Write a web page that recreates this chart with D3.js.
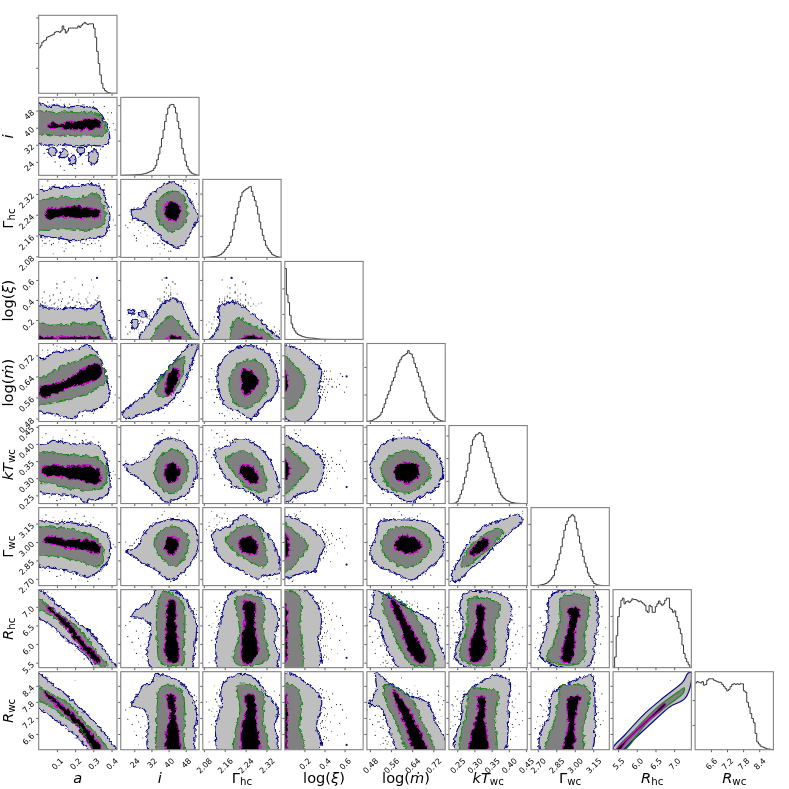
<!DOCTYPE html>
<meta charset="utf-8">
<style>
body { margin: 0; background: #fff; }
svg { display: block; filter: blur(0.3px); }
text { font-family: "DejaVu Sans", sans-serif; fill: #000; }
.tick line { stroke: #333; stroke-width: 0.8; }
.tick text { font-size: 8px; }
.axis-label { font-size: 14.6px; }
.axis-label .sub { font-size: 10.2px; }
.spine { fill: none; stroke: #808080; stroke-width: 1.1; }
.hist { fill: none; stroke: #222; stroke-width: 0.9; }
</style>
<body>
<script src="https://d3js.org/d3.v7.min.js"></script>
<script>

const params = ["a", "i", "gh", "xi", "m", "kt", "gw", "rh", "rw"];
const domains = {
  a: [0, 0.43], i: [17.7, 54.2], gh: [2.076, 2.376], xi: [0.005, 0.785], m: [0.4686, 0.765],
  kt: [0.226, 0.4535], gw: [2.645, 3.28], rh: [5.366, 7.46], rw: [6.01, 8.93]
};
const ticks = {
  a: [0.1, 0.2, 0.3, 0.4], i: [24, 32, 40, 48], gh: [2.08, 2.16, 2.24, 2.32], xi: [0.2, 0.4, 0.6],
  m: [0.48, 0.56, 0.64, 0.72], kt: [0.25, 0.30, 0.35, 0.40, 0.45], gw: [2.70, 2.85, 3.00, 3.15],
  rh: [5.5, 6.0, 6.5, 7.0], rw: [6.6, 7.2, 7.8, 8.4]
};
const tickFormats = { a: ".1f", i: "d", gh: ".2f", xi: ".1f", m: ".2f", kt: ".2f", gw: ".2f", rh: ".1f", rw: ".1f" };
const histTicks = {
  a: [36, 71, 107], i: [49, 99], gh: [30, 59, 90], xi: [36, 72], m: [38, 77],
  kt: [32, 64, 96], gw: [28, 58, 87], rh: [37, 73], rw: [35, 70]
};

// marginals, percent of the peak bin
const hist_a = [64,67,72,74,75,79,80,81,82,83,86,87,87,86,88,95,90,85,88,92,92,92,92,92,92,95,93,96,98,100,98,97,98,98,98,92,79,59,42,26,14,7,4,2,1,0.5,0,0,0,0];
const hist_i = [0,0.2,0.2,0.3,0.3,0.4,0.5,0.5,0.6,0.8,1,1,1.2,1.5,2,2.5,3,4,5,6,7,10,14,22,30,40,52,64,76,86,95,99,100,100,96,88,76,66,52,38,30,20,13,8,5,3,2,1,0.5,0.2];
const hist_gh = [0,0,0.2,0.3,0.5,0.7,1,1.2,1.5,2,3,4,6,8,11,14,17,21,30,39,50,60,70,79,86,92,94,96,97,99,100,93,86,80,72,61,50,40,31,24,17,13,10,7,4,3,2,1,0.5,0.2];
const hist_xi = [100,63,52,34,22,16,12,9,7,6,5,4,3.5,3,2.5,2.2,2,2,1.8,1.5,1,0.8,0.5,0.4,0.3,0.2,0.15,0.1,0.1,0.1,0,0,0,0,0,0,0,0,0,0,0,0,0,0,0,0,0,0,0,0];
const hist_m = [0.3,0.5,1,1.5,3,4,5,7,9,13,19,25,32,38,43,51,57,62,70,77,83,87,91,93,94,96,100,96,95,90,82,76,69,63,56,50,43,33,26,20,15,12,9,6,5,3,2,1,0.6,0.3];
const hist_kt = [0,0.1,0.2,0.4,1,3,7,13,19,28,37,46,57,71,82,90,94,97,98,100,99,96,87,79,73,65,58,51,43,36,28,22,16,12,9,7,5,4,3,2,1.5,1,0.6,0.4,0.3,0.2,0.1,0.1,0,0];
const hist_gw = [0,0,0,0.2,0.3,0.5,1,1.5,2,3,4,6,8,11,14,22,30,36,45,55,67,78,86,91,96,98,100,98,90,80,70,60,50,41,32,26,18,13,10,6,3,2,1,0.6,0.3,0.2,0.1,0,0,0];
const hist_rh = [1,15,45,72,85,95,98,90,93,94,92,94,97,96,96,95,93,94,92,90,88,80,78,88,86,78,78,86,90,94,90,88,90,95,98,98,84,82,78,80,72,65,55,48,32,20,13,8,4,0];
const hist_rw = [94,96,95,94,96,91,92,98,100,100,100,98,97,96,95,95,92,89,86,83,85,89,92,93,92,93,92,93,93,83,81,67,60,51,44,38,23,11,8,5,4,3,2,1,1,0.5,0];
const hists = { a: hist_a, i: hist_i, gh: hist_gh, xi: hist_xi, m: hist_m, kt: hist_kt, gw: hist_gw, rh: hist_rh, rw: hist_rw };

// 2d levels: name is row_column, values are [x, y] in the parameters' own units
const i_a = {
  outer: [[-.02,52],[.02,51],[.06,50],[.1,50.5],[.15,49.8],[.2,50],[.25,50],[.3,49.3],[.33,48],[.35,45],[.37,42],[.385,38],[.39,34],[.372,32],[.33,31.5],[.28,32],[.22,31.5],[.15,32],[.08,32],[.03,32],[-.02,34]],
  mid: [[-.02,47.2],[.05,47.6],[.1,47],[.15,47.4],[.2,47],[.26,47.2],[.31,47],[.345,45],[.36,42],[.37,39],[.35,36.5],[.3,36],[.25,36.3],[.2,36],[.15,36.6],[.1,36],[.05,36.8],[-.02,36.8]],
  core: [[.055,41],[.08,42.5],[.12,41.7],[.16,43],[.2,43],[.25,44],[.29,44],[.335,43.5],[.34,40.5],[.3,39.3],[.25,39.2],[.2,39],[.15,39.5],[.1,39.7],[.06,39.8]],
  islands: [
    [[.05,30],[.08,30.5],[.1,28.5],[.08,26.5],[.06,27.5]], [[.12,29],[.15,29.5],[.16,27],[.13,26],[.115,27]],
    [[.17,26],[.2,26.5],[.2,23],[.175,22.5],[.165,24]], [[.21,30],[.25,30.5],[.25,28],[.22,27.5]],
    [[.28,28.5],[.32,29],[.32,24],[.29,23],[.27,26]]
  ]
};
const gh_a = {
  outer: [[-.02,2.34],[.03,2.335],[.08,2.345],[.13,2.345],[.18,2.35],[.24,2.35],[.28,2.36],[.33,2.35],[.355,2.33],[.375,2.28],[.39,2.24],[.385,2.2],[.36,2.16],[.31,2.15],[.25,2.145],[.19,2.14],[.12,2.15],[.05,2.155],[-.02,2.165]],
  mid: [[-.02,2.29],[.05,2.3],[.1,2.305],[.15,2.31],[.2,2.3],[.27,2.315],[.32,2.32],[.345,2.29],[.365,2.25],[.355,2.2],[.32,2.19],[.25,2.18],[.18,2.185],[.1,2.185],[.05,2.18],[-.02,2.19]],
  core: [[.035,2.245],[.06,2.265],[.1,2.262],[.15,2.27],[.2,2.275],[.25,2.268],[.3,2.265],[.337,2.255],[.335,2.232],[.29,2.228],[.23,2.225],[.17,2.23],[.12,2.232],[.07,2.222],[.04,2.228]]
};
const xi_a = {
  outer: [[-.02,.335],[.05,.32],[.1,.315],[.15,.315],[.2,.325],[.25,.31],[.3,.33],[.335,.38],[.345,.3],[.36,.2],[.38,.1],[.4,0],[.4,-.03],[-.02,-.03]],
  mid: [[-.02,.18],[.05,.15],[.1,.15],[.15,.155],[.2,.17],[.25,.16],[.3,.17],[.33,.15],[.35,.1],[.38,0],[.38,-.03],[-.02,-.03]],
  core: [[-.02,.03],[.05,.03],[.3,.03],[.35,.02],[.36,-.03],[-.02,-.03]]
};
const m_a = {
  outer: [[-.02,.705],[.03,.708],[.08,.73],[.13,.735],[.17,.74],[.22,.745],[.262,.76],[.29,.75],[.317,.733],[.353,.682],[.381,.605],[.39,.566],[.362,.536],[.299,.511],[.226,.505],[.19,.48],[.117,.49],[.062,.5],[-.02,.515]],
  mid: [[-.02,.635],[.04,.64],[.08,.66],[.15,.685],[.21,.698],[.31,.72],[.35,.68],[.37,.62],[.32,.595],[.21,.56],[.1,.542],[.04,.535],[-.02,.54]],
  core: [[.007,.599],[.098,.612],[.19,.643],[.262,.676],[.335,.688],[.344,.643],[.262,.612],[.172,.599],[.098,.574],[.016,.561]]
};
const kt_a = {
  outer: [[-.02,.4],[.04,.4],[.08,.41],[.13,.405],[.19,.4],[.25,.402],[.317,.4],[.35,.382],[.38,.333],[.39,.27],[.345,.24],[.27,.236],[.25,.229],[.225,.242],[.153,.25],[.062,.255],[-.02,.265]],
  mid: [[-.02,.374],[.06,.375],[.12,.37],[.22,.367],[.33,.357],[.375,.323],[.355,.275],[.26,.265],[.155,.272],[.07,.285],[-.02,.294]],
  core: [[.016,.33],[.062,.338],[.135,.335],[.299,.333],[.337,.318],[.33,.284],[.226,.292],[.117,.304],[.044,.306],[.016,.318]]
};
const gw_a = {
  outer: [[-.02,3.16],[.1,3.155],[.17,3.16],[.24,3.14],[.3,3.13],[.38,3.05],[.39,2.88],[.335,2.77],[.265,2.71],[.245,2.72],[.16,2.77],[.06,2.79],[-.02,2.825]],
  mid: [[-.02,3.12],[.08,3.12],[.16,3.11],[.28,3.06],[.355,2.95],[.33,2.8],[.225,2.84],[.1,2.885],[-.02,2.91]],
  core: [[.03,3.03],[.07,3.045],[.14,3.025],[.22,3.02],[.3,3.01],[.335,2.975],[.33,2.905],[.25,2.935],[.16,2.95],[.1,2.975],[.05,2.99],[.03,3.0]]
};
const rh_a = {
  outer: [[-.02,7.5],[.02,7.42],[.07,7.2],[.153,6.86],[.22,6.55],[.3,6.235],[.36,5.85],[.408,5.51],[.435,5.3],[.32,5.3],[.28,5.56],[.24,5.8],[.15,6.14],[.07,6.5],[-.02,6.8]],
  mid: [[-.02,7.32],[.05,7.02],[.153,6.68],[.26,6.2],[.33,5.7],[.38,5.45],[.335,5.42],[.27,5.7],[.153,6.41],[.07,6.75],[-.02,7.02]],
  core: [[.05,7.02],[.1,6.85],[.17,6.55],[.24,6.1],[.34,5.55],[.33,5.46],[.27,5.72],[.2,6.1],[.14,6.5],[.08,6.8],[.045,6.97]]
};
const rw_a = {
  outer: [[-.02,8.95],[.007,8.85],[.07,8.5],[.153,8.05],[.22,7.6],[.3,7.11],[.37,6.55],[.417,6.11],[.44,5.9],[.28,5.9],[.262,6.11],[.2,6.55],[.135,6.92],[.06,7.3],[-.02,7.68]],
  mid: [[-.02,8.42],[.07,8.1],[.153,7.79],[.26,7.0],[.37,6.17],[.39,5.9],[.32,5.9],[.22,6.9],[.153,7.18],[.07,7.6],[-.02,7.98]],
  core: [[.03,8.2],[.1,7.85],[.18,7.4],[.26,6.85],[.345,6.1],[.36,5.9],[.31,5.9],[.24,6.6],[.17,7.2],[.1,7.65],[.03,8.1]]
};
const gh_i = {
  outer: [[42.2,2.367],[48.4,2.322],[51.5,2.271],[53.9,2.232],[50.8,2.18],[46.9,2.124],[43.8,2.115],[39,2.136],[32.9,2.181],[28.3,2.213],[23.6,2.226],[22.8,2.258],[28.3,2.265],[29.8,2.303],[34.5,2.335],[39,2.358]],
  mid: [[40.7,2.328],[46.1,2.322],[48.4,2.271],[47.6,2.207],[42.2,2.175],[37.5,2.194],[34.2,2.245],[35.2,2.296]],
  core: [[41.5,2.29],[44.6,2.277],[45.5,2.251],[43.8,2.22],[39.9,2.22],[37.9,2.245],[38.7,2.277]]
};
const xi_i = {
  outer: [[24.5,-.03],[26,.02],[28,.09],[29.8,.13],[32,.2],[34.5,.28],[37.5,.364],[40,.39],[43,.41],[45,.38],[46.9,.33],[49.2,.213],[52.3,.095],[54.5,.03],[54.5,-.03]],
  mid: [[31,-.03],[33,.05],[35.2,.13],[39,.213],[41,.24],[43.8,.196],[47.6,.095],[51.5,.005],[52,-.03]],
  core: [[37.5,-.03],[38.3,.005],[40.6,.04],[43.8,.04],[46.9,.005],[47.5,-.03]],
  islands: [
    [[21,.3],[24,.3],[24.5,.26],[21.5,.27]], [[26,.27],[29,.28],[29.5,.24],[26.5,.235]],
    [[23,.2],[25.5,.2],[25.5,.13],[23.5,.11]]
  ]
};
const m_i = {
  outer: [[22,.479],[26.6,.494],[34.4,.51],[40.6,.542],[46,.593],[49.9,.669],[53,.739],[54.4,.765],[49.9,.76],[45.2,.72],[39,.664],[34.4,.618],[29.7,.574],[23.5,.536],[19,.504],[18.2,.494]],
  mid: [[46.9,.716],[47.6,.695],[45.2,.618],[40.6,.574],[36,.561],[34.2,.587],[37.5,.644],[42.2,.688]],
  core: [[42.2,.67],[44.6,.664],[43.8,.612],[39.9,.568],[38.3,.581],[39.9,.637]]
};
const kt_i = {
  outer: [[18.9,.338],[23.6,.342],[29.8,.357],[34.4,.401],[42.2,.415],[48.4,.396],[53,.347],[52.3,.294],[47.6,.25],[42.2,.236],[38.3,.231],[34.4,.255],[28,.289],[23.6,.309],[19.7,.328]],
  mid: [[43,.382],[47.6,.362],[49.2,.323],[46.1,.275],[41.4,.255],[37.5,.265],[33.7,.304],[34.4,.347],[37.5,.372]],
  core: [[42.2,.344],[45,.328],[44.6,.299],[40.6,.286],[38,.304],[38.7,.333]]
};
const gw_i = {
  outer: [[19.7,2.923],[25.1,2.95],[28.2,3.058],[32.9,3.14],[42.2,3.182],[50.8,3.153],[53.8,3.032],[52.3,2.882],[47.6,2.772],[41.4,2.691],[37.5,2.719],[32.9,2.787],[27.5,2.828],[22.8,2.896]],
  mid: [[40.6,3.128],[46.1,3.105],[49.2,3.018],[48.4,2.909],[43,2.8],[38.3,2.842],[33.2,2.978],[36,3.086]],
  core: [[41.4,3.045],[44.5,3.018],[44.5,2.95],[41.4,2.896],[38.3,2.937],[38.7,3.005]]
};
const rh_i = {
  outer: [[34.4,7.44],[42.2,7.44],[46.9,7.26],[50.8,6.9],[53.1,6.46],[52.3,6.0],[51.5,5.47],[50,5.3],[32.9,5.3],[29.8,5.79],[31.3,6.18],[31.3,6.55],[27.5,6.68],[22.8,6.73],[26.6,7.0],[30.6,7.08],[32.9,7.3]],
  mid: [[36.8,7.4],[43,7.3],[46.9,7.08],[47.6,6.55],[46.9,5.92],[46.9,5.47],[42.2,5.4],[36,5.51],[34.7,6.1],[34.4,6.81]],
  core: [[39.9,7.17],[43,7.16],[43.3,6.62],[44.5,6.0],[44.5,5.56],[40.6,5.49],[38.3,5.79],[38.8,6.37],[39.1,6.9]]
};
const rw_i = {
  outer: [[33.7,8.81],[40,8.75],[46.5,8.48],[50.8,7.98],[53.1,7.35],[52.3,6.74],[50.8,5.9],[31.3,5.9],[29.8,6.48],[30.6,7.11],[28.2,7.55],[22.8,7.67],[26,8.11],[28.2,8.42],[32,8.48]],
  mid: [[36,8.33],[40.6,8.42],[46.1,8.2],[47.6,7.35],[46.9,6.48],[46.9,5.9],[35.5,5.9],[34.4,6.86],[34.7,7.6]],
  core: [[39.1,8.05],[42.5,8.05],[43.3,7.35],[45,6.54],[44.6,5.9],[39.1,5.9],[38.8,6.6],[40.6,7.23],[39.9,7.73]]
};
const xi_gh = {
  outer: [[2.09,-.03],[2.11,.03],[2.13,.1],[2.14,.17],[2.14,.25],[2.135,.33],[2.16,.36],[2.18,.385],[2.21,.36],[2.243,.313],[2.29,.21],[2.326,.112],[2.378,-.03]],
  mid: [[2.175,-.03],[2.18,.005],[2.192,.18],[2.218,.213],[2.256,.16],[2.307,.095],[2.352,.005],[2.36,-.03]],
  core: [[2.21,-.03],[2.218,.005],[2.243,.04],[2.282,.035],[2.307,.005],[2.315,-.03]]
};
const m_gh = {
  outer: [[2.135,.669],[2.166,.72],[2.218,.752],[2.282,.752],[2.339,.707],[2.365,.618],[2.352,.568],[2.307,.53],[2.262,.479],[2.218,.504],[2.166,.528],[2.135,.593]],
  mid: [[2.243,.701],[2.294,.695],[2.326,.631],[2.301,.555],[2.23,.52],[2.192,.549],[2.177,.618],[2.199,.676]],
  core: [[2.23,.669],[2.275,.65],[2.288,.612],[2.256,.58],[2.237,.568],[2.224,.612]]
};
const kt_gh = {
  outer: [[2.122,.382],[2.166,.391],[2.218,.415],[2.282,.396],[2.339,.343],[2.368,.26],[2.333,.24],[2.313,.23],[2.269,.255],[2.192,.279],[2.147,.323]],
  mid: [[2.166,.357],[2.23,.38],[2.282,.357],[2.32,.284],[2.307,.26],[2.243,.275],[2.192,.318]],
  core: [[2.224,.337],[2.262,.333],[2.292,.304],[2.282,.284],[2.25,.289],[2.217,.318]]
};
const gw_gh = {
  outer: [[2.116,3.073],[2.18,3.128],[2.23,3.223],[2.294,3.128],[2.358,2.937],[2.368,2.747],[2.32,2.732],[2.282,2.705],[2.218,2.772],[2.166,2.828],[2.128,2.924]],
  mid: [[2.166,3.018],[2.218,3.121],[2.282,3.128],[2.32,2.909],[2.313,2.8],[2.256,2.842],[2.199,2.924]],
  core: [[2.218,3.018],[2.262,3.045],[2.288,2.95],[2.282,2.909],[2.243,2.909],[2.218,2.95]]
};
const rh_gh = {
  outer: [[2.18,7.35],[2.268,7.44],[2.333,7.17],[2.365,6.73],[2.352,6.1],[2.368,5.6],[2.346,5.3],[2.141,5.3],[2.128,6.0],[2.147,6.73],[2.166,7.17]],
  mid: [[2.205,7.26],[2.294,7.26],[2.313,7.0],[2.307,6.37],[2.326,5.6],[2.269,5.43],[2.205,5.47],[2.192,5.65],[2.218,6.28],[2.205,6.9]],
  core: [[2.23,7.13],[2.275,7.08],[2.275,6.46],[2.288,5.83],[2.262,5.49],[2.23,5.49],[2.224,6.1],[2.237,6.68]]
};
const rw_gh = {
  outer: [[2.147,8.35],[2.18,8.73],[2.26,8.78],[2.32,8.11],[2.365,7.48],[2.352,6.86],[2.365,6.23],[2.35,5.9],[2.141,5.9],[2.128,6.98],[2.147,7.67]],
  mid: [[2.211,8.42],[2.256,8.42],[2.307,8.11],[2.307,7.11],[2.326,6.23],[2.32,5.9],[2.199,5.9],[2.199,6.61],[2.218,7.48]],
  core: [[2.237,8.05],[2.271,8.05],[2.282,6.98],[2.295,6.23],[2.29,5.9],[2.23,5.9],[2.224,6.86],[2.243,7.48]]
};
const m_xi = {
  outer: [[-.03,.765],[.02,.759],[.155,.739],[.287,.694],[.37,.663],[.337,.587],[.353,.548],[.287,.491],[.155,.46],[-.03,.495]],
  mid: [[-.03,.725],[.01,.72],[.105,.682],[.205,.625],[.17,.561],[.07,.517],[.01,.51],[-.03,.505]],
  core: [[-.03,.67],[.01,.665],[.035,.63],[.03,.6],[.01,.58],[-.03,.58]]
};
const kt_xi = {
  outer: [[-.03,.43],[.01,.426],[.155,.401],[.287,.382],[.387,.343],[.37,.294],[.304,.265],[.155,.255],[.01,.226],[-.03,.22]],
  mid: [[-.03,.395],[.01,.392],[.121,.367],[.237,.328],[.155,.294],[.01,.25],[-.03,.245]],
  core: [[-.03,.362],[.01,.358],[.048,.328],[.03,.299],[.01,.294],[-.03,.29]]
};
const gw_xi = {
  outer: [[-.03,3.23],[.01,3.22],[.205,3.153],[.354,3.043],[.403,2.988],[.354,2.88],[.304,2.772],[.155,2.743],[.01,2.702],[-.03,2.69]],
  mid: [[-.03,3.16],[.01,3.153],[.121,3.07],[.237,2.975],[.187,2.905],[.088,2.797],[.01,2.757],[-.03,2.75]],
  core: [[-.03,3.09],[.01,3.083],[.048,2.988],[.03,2.88],[.01,2.867],[-.03,2.86]]
};
const rh_xi = {
  outer: [[-.03,7.5],[.22,7.4],[.337,7.04],[.37,6.55],[.337,6.1],[.37,5.56],[.32,5.3],[-.03,5.3]],
  mid: [[-.03,7.38],[.121,7.35],[.17,7.08],[.155,6.55],[.187,5.83],[.187,5.47],[.17,5.3],[-.03,5.3]],
  core: [[-.03,7.1],[.015,7.1],[.025,6],[.015,5.5],[-.03,5.5]]
};
const rw_xi = {
  outer: [[-.03,8.85],[.088,8.81],[.22,8.51],[.37,7.88],[.32,6.88],[.37,6.26],[.32,5.9],[-.03,5.9]],
  mid: [[-.03,8.53],[.01,8.51],[.121,8.32],[.17,7.76],[.155,6.88],[.187,6.38],[.187,5.9],[-.03,5.9]],
  core: [[-.03,8.1],[.015,8.1],[.025,6.5],[.015,5.9],[-.03,5.9]]
};
const kt_m = {
  outer: [[.479,.333],[.504,.372],[.529,.401],[.592,.416],[.667,.411],[.731,.372],[.756,.314],[.731,.27],[.68,.25],[.63,.231],[.567,.255],[.517,.275],[.485,.314]],
  mid: [[.523,.333],[.554,.362],[.617,.382],[.68,.362],[.711,.314],[.68,.28],[.617,.257],[.554,.275]],
  core: [[.573,.328],[.599,.343],[.655,.338],[.667,.314],[.63,.285],[.58,.299]]
};
const gw_m = {
  outer: [[.479,2.92],[.504,3.043],[.517,3.166],[.605,3.178],[.705,3.153],[.756,3.016],[.75,2.88],[.693,2.77],[.636,2.689],[.567,2.757],[.517,2.797],[.485,2.88]],
  mid: [[.523,2.96],[.542,3.07],[.592,3.124],[.667,3.096],[.711,2.988],[.68,2.852],[.617,2.797],[.554,2.852]],
  core: [[.573,2.96],[.592,3.043],[.655,3.029],[.674,2.96],[.642,2.907],[.597,2.92]]
};
const rh_m = {
  outer: [[.498,7.44],[.554,7.26],[.642,6.9],[.718,6.59],[.743,6.0],[.765,5.6],[.77,5.3],[.6,5.3],[.567,5.56],[.529,6.19],[.51,6.64],[.479,6.77],[.491,7.08]],
  mid: [[.535,7.35],[.592,7.17],[.655,6.73],[.693,6.19],[.724,5.47],[.642,5.43],[.605,5.74],[.554,6.55],[.529,7.0]],
  core: [[.56,7.22],[.586,7.08],[.611,6.73],[.655,6.19],[.693,5.6],[.667,5.47],[.623,5.87],[.592,6.55],[.567,6.9]]
};
const rw_m = {
  outer: [[.504,8.88],[.554,8.51],[.642,8.0],[.7,7.76],[.731,7.01],[.765,6.38],[.77,5.9],[.59,5.9],[.554,6.76],[.517,7.63],[.479,7.69],[.504,8.26]],
  mid: [[.535,8.44],[.58,8.32],[.642,7.88],[.674,7.13],[.724,5.9],[.63,5.9],[.58,7.01],[.542,7.76]],
  core: [[.567,8.26],[.592,8.0],[.642,7.26],[.693,5.9],[.655,5.9],[.605,7.13],[.573,7.88]]
};
const gw_kt = {
  outer: [[.233,2.718],[.257,2.867],[.286,3.003],[.325,3.125],[.383,3.18],[.418,3.22],[.442,3.18],[.418,3.112],[.383,3.03],[.344,2.922],[.315,2.84],[.286,2.772],[.247,2.677]],
  mid: [[.262,2.8],[.277,2.922],[.32,3.044],[.369,3.112],[.383,3.084],[.359,2.989],[.315,2.881],[.277,2.8]],
  core: [[.286,2.908],[.301,2.976],[.33,3.03],[.344,3.016],[.335,2.949],[.301,2.894]]
};
const rh_kt = {
  outer: [[.272,7.36],[.306,7.41],[.383,7.31],[.408,6.96],[.398,6.42],[.393,5.8],[.378,5.39],[.257,5.48],[.243,5.75],[.252,6.06],[.267,6.51],[.257,6.96]],
  mid: [[.286,7.23],[.32,7.24],[.374,7.04],[.359,6.42],[.359,5.8],[.344,5.44],[.281,5.48],[.257,5.66],[.277,6.42]],
  core: [[.306,7.04],[.33,7.0],[.325,6.42],[.335,5.88],[.315,5.53],[.291,5.53],[.286,5.97],[.306,6.51]]
};
const rw_kt = {
  outer: [[.364,8.8],[.403,8.56],[.398,7.81],[.398,6.81],[.383,5.9],[.247,5.9],[.243,6.43],[.262,7.18],[.267,7.93],[.306,8.43]],
  mid: [[.291,8.3],[.325,8.3],[.369,8.18],[.359,7.18],[.359,5.9],[.257,5.9],[.257,6.31],[.277,7.43],[.281,8.05]],
  core: [[.31,7.99],[.33,7.99],[.33,7.18],[.335,5.9],[.286,5.9],[.296,6.81],[.31,7.43]]
};
const rh_gw = {
  outer: [[2.824,7.35],[2.96,7.44],[3.15,7.44],[3.19,6.81],[3.163,6.1],[3.136,5.52],[3.068,5.3],[2.797,5.47],[2.715,5.7],[2.743,6.1],[2.783,6.64],[2.783,7.08]],
  mid: [[2.892,7.26],[3.109,7.26],[3.109,6.81],[3.082,6.28],[3.068,5.56],[2.933,5.43],[2.77,5.6],[2.824,6.01],[2.879,6.64]],
  core: [[2.946,6.95],[3.041,6.95],[3.0,6.28],[3.0,5.83],[2.96,5.52],[2.892,5.56],[2.933,6.28],[2.96,6.64]]
};
const rw_gw = {
  outer: [[2.865,8.31],[2.96,8.5],[3.136,8.8],[3.163,7.87],[3.163,6.88],[3.122,5.9],[2.729,5.9],[2.715,6.5],[2.797,7.38],[2.797,7.87]],
  mid: [[2.892,8.37],[3.109,8.31],[3.109,7.62],[3.068,6.88],[3.055,5.9],[2.77,5.9],[2.77,6.26],[2.837,7.13],[2.865,7.87]],
  core: [[2.946,7.94],[3.041,8.0],[3.0,7.13],[3.0,6.26],[2.96,5.9],[2.905,5.9],[2.946,6.88]]
};
const rw_rh = {
  outer: [[5.366,6.06],[5.68,6.56],[6.22,7.37],[6.75,8.0],[7.24,8.56],[7.37,8.87],[7.46,8.9],[7.46,8.56],[7.29,7.93],[6.89,7.62],[6.39,7.0],[5.86,6.31],[5.59,5.96]],
  mid: [[5.456,6.01],[5.95,6.75],[6.57,7.62],[7.11,8.18],[7.27,8.33],[7.24,8.12],[6.84,7.68],[6.22,6.93],[5.68,6.01]],
  core: [[5.42,5.95],[5.8,6.5],[6.4,7.3],[6.75,7.75],[6.78,7.7],[6.3,7.08],[5.75,6.35],[5.52,5.95]]
};
const levels = {
  i_a, gh_a, xi_a, m_a, kt_a, gw_a, rh_a, rw_a, gh_i, xi_i, m_i, kt_i, gw_i, rh_i, rw_i,
  xi_gh, m_gh, kt_gh, gw_gh, rh_gh, rw_gh, m_xi, kt_xi, gw_xi, rh_xi, rw_xi,
  kt_m, gw_m, rh_m, rw_m, gw_kt, rh_kt, rw_kt, rh_gw, rw_gw, rw_rh
};

// the stray chain samples outside the outer level, columns in params order
const strays = [
  [.01,40,2.22,.36,.62,.33,2.99,7.15,8.3],[.02,43,2.26,.42,.66,.31,2.95,7.0,8.2],[.03,38,2.2,.48,.6,.35,3.05,7.1,8.1],
  [.05,45,2.28,.34,.68,.29,2.88,6.9,8.0],[.06,36,2.19,.39,.58,.36,3.08,6.95,7.95],[.08,41,2.24,.45,.63,.32,2.98,6.8,7.9],
  [.09,47,2.3,.37,.7,.3,2.92,6.7,7.75],[.1,39,2.18,.52,.6,.34,3.02,6.75,7.7],[.12,44,2.25,.35,.66,.31,2.96,6.6,7.65],
  [.13,35,2.16,.41,.55,.37,3.1,6.55,7.55],[.14,42,2.23,.58,.64,.33,3.0,6.5,7.5],[.16,46,2.27,.36,.69,.28,2.86,6.45,7.4],
  [.17,38,2.17,.43,.58,.35,3.04,6.35,7.35],[.18,41,2.21,.5,.62,.32,2.97,6.4,7.3],[.2,43,2.24,.34,.65,.3,2.93,6.25,7.2],
  [.21,37,2.15,.38,.57,.38,3.12,6.2,7.1],[.22,44,2.22,.46,.66,.27,2.84,6.15,7.05],[.24,40,2.2,.55,.61,.34,3.03,6.1,7.0],
  [.25,48,2.29,.36,.72,.31,2.95,6.0,6.9],[.26,36,2.14,.41,.56,.36,3.07,5.95,6.85],[.27,42,2.19,.37,.63,.29,2.9,5.9,6.8],
  [.28,39,2.18,.47,.6,.33,2.99,5.85,6.7],[.29,45,2.23,.35,.68,.32,2.96,5.8,6.65],[.3,41,2.17,.53,.63,.3,2.91,5.75,6.55],
  [.31,38,2.2,.4,.59,.35,3.06,5.7,6.5],[.32,43,2.16,.39,.65,.28,2.87,5.65,6.4],[.33,40,2.21,.44,.61,.34,3.01,5.6,6.35],
  [.04,41,2.22,.33,.64,.39,3.14,7.05,8.1],[.07,39,2.21,.35,.61,.35,3.04,6.85,7.9],[.11,42,2.19,.4,.63,.36,3.06,6.7,7.6],
  [.15,40,2.2,.33,.62,.31,2.94,6.45,7.45],[.19,41,2.18,.42,.63,.33,3.0,6.3,7.25],[.23,42,2.2,.36,.64,.3,2.93,6.1,7.0],
  [.27,40,2.16,.43,.61,.32,2.97,5.95,6.75],[.31,42,2.18,.35,.64,.33,2.98,5.75,6.45],[.02,38,2.14,.38,.6,.37,3.09,7.1,8.25],
  [.06,40,2.17,.44,.62,.34,3.02,6.9,8.0],[.12,41,2.2,.47,.63,.36,3.07,6.65,7.6],[.22,39,2.21,.41,.6,.29,2.9,6.2,7.1],
  [.29,37,2.15,.6,.58,.32,2.95,5.85,6.6],[.1,43,2.24,.56,.65,.38,3.11,6.7,7.7],[.2,38,2.19,.62,.6,.35,3.05,6.3,7.2],
  [.03,28,2.2,.18,.52,.34,3.0,7.05,8.1],[.05,26,2.18,.1,.5,.33,2.98,6.9,7.95],[.07,30,2.22,.22,.54,.35,3.02,6.8,7.8],
  [.09,24,2.16,.15,.49,.34,2.99,6.7,7.7],[.1,29,2.19,.27,.53,.36,3.05,6.7,7.7],[.12,22,2.21,.08,.48,.33,2.97,6.6,7.6],
  [.13,27,2.17,.2,.51,.35,3.01,6.55,7.55],[.15,31,2.24,.24,.55,.32,2.94,6.45,7.4],[.17,25,2.14,.12,.5,.34,2.96,6.35,7.3],
  [.18,28,2.2,.29,.52,.36,3.04,6.3,7.25],[.2,21,2.19,.06,.48,.34,2.93,6.2,7.15],[.21,30,2.16,.16,.54,.33,2.99,6.2,7.1],
  [.22,26,2.23,.25,.51,.35,3.03,6.15,7.05],[.24,23,2.22,.11,.49,.34,2.97,6.05,6.95],[.25,29,2.18,.3,.53,.31,2.92,6.0,6.9],
  [.26,27,2.26,.19,.52,.33,2.95,5.95,6.85],[.28,24,2.21,.09,.5,.34,3.0,5.85,6.7],[.29,31,2.19,.21,.55,.32,2.91,5.8,6.65],
  [.3,25,2.15,.14,.5,.35,3.02,5.75,6.55],[.32,28,2.2,.17,.53,.33,2.96,5.65,6.45],[.34,30,2.12,.23,.54,.31,2.93,5.55,6.35],
  [.37,26,2.18,.07,.52,.32,2.89,5.45,6.2],[.14,20,2.2,.13,.47,.35,3.0,6.5,7.5],[.08,33,2.13,.28,.56,.37,3.08,6.75,7.8],
  [.24,34,2.13,.2,.57,.36,3.05,6.05,6.9],
  [.04,37,2.13,.12,.6,.43,3.22,7.0,8.1],[.08,40,2.15,.05,.63,.42,3.2,6.8,7.9],[.13,43,2.2,.09,.66,.415,3.18,6.55,7.6],
  [.17,35,2.17,.14,.57,.425,3.19,6.35,7.4],[.21,45,2.16,.1,.67,.44,3.23,6.2,7.1],[.26,39,2.22,.06,.62,.412,3.17,5.95,6.85],
  [.3,41,2.14,.13,.64,.42,3.2,5.75,6.5],[.11,47,2.19,.04,.7,.41,3.17,6.65,7.65],[.33,37,2.18,.08,.6,.405,3.14,5.6,6.4],
  [.15,38,2.11,.16,.59,.44,3.25,6.45,7.45],[.25,44,2.13,.11,.66,.43,3.21,6.0,6.95],[.02,42,2.12,.07,.65,.418,3.19,7.15,8.4],
  [.06,38,2.28,.1,.59,.245,2.76,6.9,8.0],[.1,42,2.3,.06,.64,.235,2.72,6.7,7.7],[.14,36,2.32,.12,.56,.24,2.75,6.5,7.5],
  [.18,44,2.33,.05,.66,.25,2.7,6.3,7.25],[.22,39,2.29,.09,.6,.232,2.69,6.15,7.05],[.24,46,2.35,.13,.69,.245,2.74,6.05,6.95],
  [.27,41,2.31,.08,.62,.23,2.68,5.9,6.8],[.3,37,2.34,.1,.58,.25,2.73,5.75,6.5],[.33,43,2.36,.04,.65,.24,2.7,5.6,6.4],
  [.02,40,2.3,.15,.62,.252,2.77,7.1,8.2],[.12,48,2.27,.07,.71,.238,2.73,6.6,7.65],[.2,33,2.26,.11,.53,.255,2.78,6.25,7.15],
  [.08,36,2.09,.15,.58,.37,3.1,6.75,7.8],[.14,41,2.1,.08,.63,.38,3.13,6.5,7.5],[.19,38,2.12,.2,.59,.39,3.12,6.3,7.25],
  [.24,45,2.11,.12,.67,.36,3.09,6.1,6.95],[.29,35,2.13,.05,.56,.385,3.14,5.8,6.6],[.34,40,2.1,.18,.62,.39,3.16,5.5,6.3],
  [.05,48,2.37,.06,.7,.28,2.82,6.95,8.05],[.16,50,2.365,.04,.72,.27,2.8,6.4,7.4],[.28,47,2.37,.09,.69,.265,2.79,5.85,6.7],
  [.36,44,2.355,.03,.67,.28,2.84,5.45,6.2],[.22,52,2.36,.05,.73,.29,2.86,6.2,7.05],
  [.37,36,2.2,.05,.545,.33,3.0,5.48,6.22],[.38,44,2.24,.03,.56,.29,2.9,5.45,6.15],[.39,40,2.18,.08,.58,.35,3.03,5.42,6.12],
  [.4,47,2.27,.02,.6,.3,2.95,5.42,6.08],[.41,42,2.22,.03,.54,.32,2.98,5.4,6.05],[.36,50,2.28,.06,.53,.31,2.92,5.5,6.25],
  [.35,33,2.15,.04,.55,.34,3.03,5.5,6.3],[.42,39,2.2,.02,.57,.31,2.96,5.39,6.03],
  [.05,52,2.26,.04,.74,.33,2.99,6.95,8.05],[.1,54,2.28,.05,.755,.31,2.93,6.7,7.7],[.14,51,2.22,.03,.745,.35,3.05,6.5,7.5],
  [.18,50,2.3,.06,.75,.3,2.9,6.3,7.25],[.02,49,2.24,.07,.74,.34,3.03,7.1,8.2],[.08,53,2.32,.02,.76,.32,2.96,6.8,7.85],
  [.22,53,2.25,.03,.745,.36,3.08,6.15,7.0],[.3,52,2.27,.05,.73,.29,2.88,5.75,6.55],
  [.2,38,2.24,.04,.5,.3,2.95,6.9,8.6],[.05,34,2.3,.12,.6,.31,2.85,7.4,8.7],[.3,50,2.18,.03,.72,.34,3.1,5.4,6.1],
  [.015,41,2.23,.345,.63,.32,2.97,7.1,8.25],[.035,44,2.25,.37,.66,.3,2.93,7.0,8.1],[.045,39,2.19,.34,.6,.34,3.04,6.95,8.05],
  [.065,42,2.22,.4,.64,.33,3.0,6.85,7.95],[.085,37,2.17,.36,.58,.36,3.06,6.75,7.85],[.105,45,2.26,.335,.67,.29,2.89,6.7,7.7],
  [.125,40,2.21,.385,.62,.33,2.99,6.6,7.6],[.145,43,2.23,.345,.65,.31,2.95,6.5,7.5],[.165,38,2.18,.37,.59,.35,3.03,6.4,7.4],
  [.185,44,2.24,.4,.66,.3,2.92,6.3,7.3],[.205,41,2.2,.345,.63,.32,2.98,6.2,7.15],[.225,39,2.17,.375,.6,.34,3.02,6.15,7.05],
  [.245,43,2.22,.335,.65,.29,2.9,6.05,6.95],[.265,40,2.19,.39,.62,.33,2.99,5.95,6.85],[.285,42,2.2,.34,.64,.31,2.94,5.85,6.7],
  [.305,38,2.16,.36,.59,.35,3.04,5.75,6.55],[.325,41,2.18,.42,.63,.3,2.92,5.65,6.45],[.345,40,2.15,.32,.62,.32,2.97,5.55,6.3],
  [.03,41,2.13,.05,.63,.36,3.08,7.0,8.15],[.07,38,2.125,.1,.59,.37,3.1,6.85,7.9],[.11,43,2.135,.06,.65,.35,3.06,6.65,7.65],
  [.15,40,2.13,.12,.62,.38,3.11,6.45,7.45],[.19,44,2.12,.04,.66,.36,3.07,6.3,7.25],[.23,39,2.135,.09,.6,.37,3.09,6.1,7.0],
  [.27,42,2.125,.07,.64,.36,3.08,5.9,6.75],[.31,40,2.13,.11,.62,.38,3.1,5.7,6.5],[.06,45,2.14,.03,.67,.35,3.05,6.9,8.0],
  [.13,36,2.115,.16,.57,.37,3.09,6.55,7.55],[.21,47,2.14,.05,.69,.34,3.04,6.2,7.1],[.33,38,2.14,.07,.59,.37,3.09,5.6,6.35],
  [.02,44,2.35,.05,.66,.27,2.82,7.1,8.2],[.09,41,2.355,.08,.63,.26,2.79,6.7,7.75],[.17,47,2.36,.03,.69,.275,2.83,6.35,7.35],
  [.26,39,2.35,.06,.6,.26,2.78,5.95,6.85],[.33,45,2.345,.02,.67,.27,2.81,5.6,6.35],
  [.05,39,2.19,.1,.6,.405,3.16,6.95,8.05],[.09,43,2.17,.07,.65,.41,3.17,6.75,7.8],[.16,38,2.18,.13,.59,.405,3.17,6.4,7.4],
  [.2,41,2.15,.05,.63,.42,3.19,6.25,7.15],[.24,36,2.19,.09,.57,.41,3.15,6.05,6.95],[.28,44,2.14,.04,.66,.405,3.16,5.85,6.7],
  [.07,41,2.27,.06,.63,.25,2.79,6.85,7.9],[.11,37,2.29,.09,.58,.248,2.78,6.65,7.65],[.15,45,2.28,.05,.67,.255,2.77,6.45,7.45],
  [.19,40,2.31,.11,.62,.243,2.74,6.3,7.25],[.25,43,2.3,.04,.65,.238,2.72,6.0,6.9],[.29,38,2.32,.07,.59,.252,2.76,5.8,6.65],
  [.05,50,2.25,.05,.73,.33,3.0,6.58,7.35],[.1,51,2.24,.03,.74,.31,2.95,6.32,7.05],[.15,33,2.2,.08,.53,.34,3.02,6.08,6.8],
  [.2,49,2.27,.04,.72,.32,2.97,5.82,6.45],[.25,50,2.26,.02,.735,.3,2.93,5.6,6.2],[.12,53,2.21,.06,.75,.35,3.05,6.9,8.0],
  [.17,51,2.29,.03,.74,.3,2.9,6.7,7.8],[.22,34,2.18,.1,.52,.33,2.99,6.5,7.6],[.33,35,2.23,.05,.525,.32,2.96,5.95,6.85],
  [.38,47,2.21,.02,.545,.33,3.0,5.7,6.5],[.07,31,2.25,.08,.5,.34,3.01,7.35,8.55],[.3,33,2.28,.06,.515,.31,2.94,6.2,7.05]
];
// one lone sample that got its own outer ring
const loner = [.32, 39, 2.186, .62, .64, .274, 2.816, 5.63, 6.19];

const size = 78.3, step = 82.05, marginLeft = 38.7, marginTop = 15.3;
const strayOpacity = [1, 0.55, 0.9, 0.35, 0.75];

const svg = d3.select("body").append("svg")
    .attr("width", 789)
    .attr("height", 789);

const defs = svg.append("defs");
function roughFilter(id, scale) {
  let f = defs.append("filter").attr("id", id)
      .attr("filterUnits", "userSpaceOnUse")
      .attr("x", -15).attr("y", -15).attr("width", size + 30).attr("height", size + 30)
      .attr("color-interpolation-filters", "sRGB");
  f.append("feTurbulence").attr("type", "fractalNoise").attr("baseFrequency", 0.24)
      .attr("numOctaves", 2).attr("seed", 7).attr("result", "noise");
  f.append("feDisplacementMap").attr("in", "SourceGraphic").attr("in2", "noise")
      .attr("scale", scale).attr("xChannelSelector", "R").attr("yChannelSelector", "G");
}
roughFilter("rough", 5);
roughFilter("rough-thin", 1.2);
defs.append("clipPath").attr("id", "panel-clip").append("rect")
    .attr("width", size).attr("height", size - 0.3);

const scaleX = p => d3.scaleLinear().domain(domains[p]).range([0, size]);
const scaleY = p => d3.scaleLinear().domain(domains[p]).range([size - 0.3, 0]);

function drawTicks(g, col, row, x, y, xp, yp) {
  // bottom ticks on every panel, labels only along the outer edge
  let bottom = g.append("g").attr("transform", "translate(0," + (size - 0.3) + ")")
      .call(d3.axisBottom(x).tickValues(ticks[xp]).tickSize(2.5)
        .tickFormat(row === 8 ? d3.format(tickFormats[xp]) : ""));
  bottom.select(".domain").remove();
  bottom.selectAll("text")
      .attr("text-anchor", "middle")
      .attr("y", 0).attr("dy", 0)
      .attr("transform", function() {
        let len = this.getComputedTextLength();
        return "translate(0," + (7.5 + (len + 5.8) * 0.354) + ")rotate(-45)translate(0,2.9)";
      });

  let yAxis = d3.axisLeft(y).tickSize(2.5);
  if (yp) yAxis.tickValues(ticks[yp]).tickFormat(col === 0 ? d3.format(tickFormats[yp]) : "");
  else yAxis.tickValues(histTicks[xp]).tickFormat("");
  let leftAxis = g.append("g").call(yAxis);
  leftAxis.select(".domain").remove();
  leftAxis.selectAll("text")
      .attr("text-anchor", "end")
      .attr("x", 0).attr("dy", 0)
      .attr("transform", "translate(-6,0)rotate(-45)translate(0,2.9)");
}

function drawHist(g, p, row) {
  let counts = hists[p];
  let bins = d3.scaleLinear().domain([0, counts.length]).range([0, size]);
  let y = d3.scaleLinear().domain([0, 110]).range([size - 0.3, 0]);
  let pts = counts.map((d, i) => [i, d]).concat([[counts.length, counts[counts.length - 1]]]);
  g.append("path")
      .attr("class", "hist")
      .attr("clip-path", "url(#panel-clip)")
      .attr("d", d3.line().x(d => bins(d[0])).y(d => y(d[1])).curve(d3.curveStepAfter)(pts));
  drawTicks(g, 99, row, scaleX(p), y, p, null);
}

function drawPair(g, xp, yp, col, row) {
  let x = scaleX(xp), y = scaleY(yp);
  let xi = params.indexOf(xp), yi = params.indexOf(yp);
  let shapes = levels[yp + "_" + xp];
  let area = d3.line().x(d => x(d[0])).y(d => y(d[1])).curve(d3.curveCatmullRomClosed.alpha(0.5));
  let outerShapes = [shapes.outer].concat(shapes.islands || []);

  let clip = g.append("g").attr("clip-path", "url(#panel-clip)");

  clip.append("g").selectAll("circle")
    .data(strays)
    .join("circle")
      .attr("cx", d => x(d[xi]))
      .attr("cy", d => y(d[yi]))
      .attr("r", 0.6)
      .attr("fill", "#000")
      .attr("opacity", (d, k) => strayOpacity[k % strayOpacity.length]);
  clip.append("circle")
      .attr("cx", x(loner[xi])).attr("cy", y(loner[yi])).attr("r", 1.1)
      .attr("fill", "#0a0a8c");

  let inner = clip.append("g")
      .attr("filter", yp === "rw" && xp === "rh" ? "url(#rough-thin)" : "url(#rough)");
  outerShapes.forEach(s => inner.append("path").attr("d", area(s)).attr("fill", "#bfbfbf"));
  inner.append("path").attr("d", area(shapes.mid)).attr("fill", "#808080");
  inner.append("path").attr("d", area(shapes.core)).attr("fill", "#000");
  outerShapes.forEach(s => inner.append("path").attr("d", area(s)).attr("fill", "none").attr("stroke", "#0a0a8c").attr("stroke-width", 1.2));
  inner.append("path").attr("d", area(shapes.mid)).attr("fill", "none").attr("stroke", "#148a14").attr("stroke-width", 1.1);
  inner.append("path").attr("d", area(shapes.core)).attr("fill", "none").attr("stroke", "#d400d4").attr("stroke-width", 1.1);

  drawTicks(g, col, row, x, y, xp, yp);
}

params.forEach(function(yp, row) {
  params.forEach(function(xp, col) {
    if (col > row) return;
    let g = svg.append("g")
        .attr("transform", "translate(" + (marginLeft + col * step) + "," + (marginTop + row * step) + ")");
    if (col === row) drawHist(g, xp, row);
    else drawPair(g, xp, yp, col, row);
    g.append("rect").attr("class", "spine").attr("width", size).attr("height", size - 0.3);
  });
});

// axis labels, each built from plain and italic pieces
const labelParts = {
  a: [["a", "i"]],
  i: [["i", "i"]],
  gh: [["Γ", ""], ["hc", "s"]],
  xi: [["log(", ""], ["ξ", "i"], [")", ""]],
  m: [["log(", ""], ["ṁ", "i"], [")", ""]],
  kt: [["kT", "i"], ["wc", "s"]],
  gw: [["Γ", ""], ["wc", "s"]],
  rh: [["R", "i"], ["hc", "s"]],
  rw: [["R", "i"], ["wc", "s"]]
};

function addLabel(text, parts) {
  parts.forEach(function(p) {
    let t = text.append("tspan").text(p[0]);
    if (p[1] === "i") t.attr("font-style", "italic");
    if (p[1] === "s") t.attr("class", "sub").attr("dy", 2.5);
  });
}

params.forEach(function(p, k) {
  let cx = marginLeft + k * step + size / 2;
  let xl = svg.append("text").attr("class", "axis-label")
      .attr("x", cx).attr("y", 782.5).attr("text-anchor", "middle");
  addLabel(xl, labelParts[p]);
  if (k > 0) {
    let cy = marginTop + k * step + size / 2;
    let yl = svg.append("text").attr("class", "axis-label")
        .attr("text-anchor", "middle")
        .attr("transform", "translate(12.7," + cy + ")rotate(-90)");
    addLabel(yl, labelParts[p]);
  }
});

</script>
